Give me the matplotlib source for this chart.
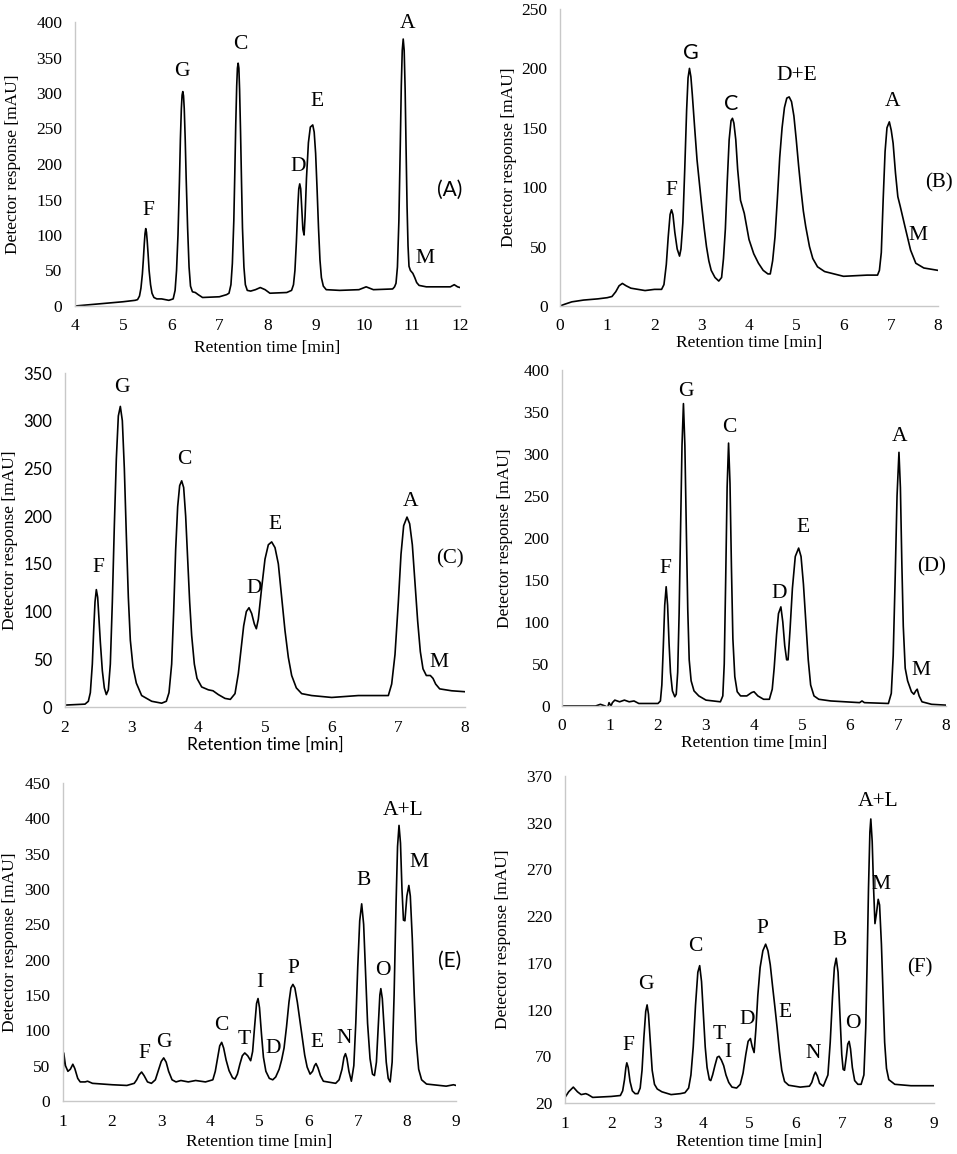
import matplotlib
matplotlib.use("Agg")
import matplotlib.pyplot as plt

plt.rcParams['font.family'] = ['Liberation Serif', 'DejaVu Serif']
SANS = ['Lato', 'DejaVu Sans']

# ---------------- data ----------------
a_time = [4.0, 4.5, 5.0, 5.25, 5.30, 5.34, 5.37, 5.40, 5.42, 5.44, 5.455, 5.47, 5.485, 5.50, 5.52, 5.54,
          5.57, 5.60, 5.64, 5.7, 5.8, 5.95, 6.04, 6.08, 6.11, 6.14, 6.17, 6.19, 6.21, 6.225, 6.24, 6.255,
          6.27, 6.29, 6.31, 6.34, 6.37, 6.40, 6.44, 6.50, 6.56, 6.65, 7.0, 7.15, 7.20, 7.24, 7.27, 7.30,
          7.32, 7.34, 7.36, 7.375, 7.39, 7.405, 7.42, 7.44, 7.46, 7.48, 7.51, 7.54, 7.58, 7.65, 7.75,
          7.85, 7.95, 8.05, 8.4, 8.50, 8.54, 8.57, 8.60, 8.63, 8.65, 8.67, 8.69, 8.71, 8.735, 8.76, 8.78,
          8.81, 8.85, 8.89, 8.94, 8.97, 9.00, 9.03, 9.06, 9.09, 9.12, 9.16, 9.22, 9.5, 9.9, 10.05, 10.2,
          10.6, 10.64, 10.67, 10.70, 10.73, 10.76, 10.78, 10.80, 10.82, 10.84, 10.86, 10.88, 10.90,
          10.92, 10.94, 10.97, 11.02, 11.06, 11.10, 11.15, 11.3, 11.8, 11.88, 11.95, 12.0]
a_signal = [0, 3, 6, 8, 9, 14, 25, 45, 65, 88, 102, 109, 104, 92, 72, 50,
            30, 18, 12, 10, 10, 8, 10, 22, 50, 100, 175, 235, 278, 297, 302, 296,
            278, 235, 180, 110, 55, 28, 20, 19, 16, 12, 13, 16, 18, 30, 60, 120,
            185, 255, 310, 335, 342, 335, 305, 245, 175, 110, 55, 30, 22, 21, 23,
            26, 23, 18, 19, 22, 30, 50, 90, 140, 165, 172, 165, 140, 108, 100, 125,
            180, 230, 252, 255, 245, 215, 165, 110, 65, 40, 28, 23, 22, 23, 27, 23,
            24, 27, 32, 55, 120, 230, 310, 360, 376, 360, 305, 220, 140,
            85, 56, 50, 46, 40, 33, 29, 27, 27, 30, 27, 26]

b_time = [0.0, 0.1, 0.25, 0.5, 0.8, 1.0, 1.1, 1.18, 1.25, 1.32, 1.4, 1.5, 1.8, 2.0, 2.15, 2.2, 2.25,
          2.29, 2.33, 2.36, 2.39, 2.43, 2.48, 2.53, 2.56, 2.60, 2.64, 2.68, 2.71, 2.74, 2.77, 2.80,
          2.85, 2.9, 3.0, 3.05, 3.1, 3.15, 3.2, 3.28, 3.36, 3.42, 3.46, 3.5, 3.54, 3.58, 3.62, 3.65,
          3.68, 3.72, 3.76, 3.82, 3.9, 4.0, 4.1, 4.2, 4.3, 4.4, 4.45, 4.5, 4.55, 4.6, 4.65, 4.7, 4.75,
          4.8, 4.85, 4.9, 4.95, 5.0, 5.05, 5.1, 5.15, 5.2, 5.28, 5.35, 5.45, 5.6, 6.0, 6.5, 6.72, 6.76,
          6.8, 6.84, 6.88, 6.92, 6.97, 7.01, 7.05, 7.1, 7.15, 7.2, 7.3, 7.42, 7.53, 7.7, 8.0]
b_signal = [0, 1.5, 3.5, 5, 6, 7, 8, 12, 17, 19, 17, 15, 13, 14, 14, 18, 35,
            58, 77, 81, 77, 62, 48, 42, 48, 70, 115, 165, 192, 200, 193, 178,
            150, 123, 84, 66, 50, 38, 30, 24, 21, 24, 40, 65, 105, 140, 156, 158,
            154, 140, 115, 89, 78, 56, 44, 36, 30, 27, 27, 38, 58, 90, 125, 150, 167,
            175, 176, 172, 160, 140, 118, 98, 80, 67, 50, 40, 33, 29, 25, 26, 26, 30,
            45, 90, 130, 150, 155, 148, 137, 112, 92, 84, 67, 47, 36, 32, 30]

c_time = [2.0, 2.3, 2.35, 2.38, 2.41, 2.43, 2.45, 2.47, 2.49, 2.51, 2.53, 2.56, 2.59, 2.62, 2.65, 2.68,
          2.71, 2.74, 2.77, 2.80, 2.83, 2.86, 2.89, 2.92, 2.95, 2.98, 3.02, 3.07, 3.15, 3.3, 3.45, 3.52,
          3.56, 3.6, 3.63, 3.66, 3.69, 3.72, 3.75, 3.78, 3.81, 3.84, 3.87, 3.9, 3.94, 3.98, 4.05, 4.15,
          4.22, 4.3, 4.4, 4.48, 4.55, 4.6, 4.64, 4.68, 4.72, 4.76, 4.8, 4.84, 4.87, 4.9, 4.95, 5.0,
          5.05, 5.1, 5.15, 5.2, 5.25, 5.3, 5.35, 5.4, 5.47, 5.55, 5.7, 6.0, 6.4, 6.85, 6.9, 6.95, 7.0,
          7.04, 7.08, 7.13, 7.17, 7.21, 7.25, 7.29, 7.33, 7.37, 7.42, 7.48, 7.52, 7.56, 7.62, 7.8, 8.0]
c_signal = [2, 3, 6, 15, 45, 80, 110, 123, 115, 92, 68, 38, 20, 13, 18, 45,
            110, 190, 260, 305, 315, 300, 250, 180, 115, 70, 42, 25, 12, 6, 4, 6,
            15, 45, 100, 165, 210, 232, 237, 230, 200, 155, 110, 75, 45, 30, 21, 18,
            17, 13, 9, 8, 14, 35, 60, 85, 100, 104, 98, 87, 82, 92, 125, 155,
            170, 173, 167, 150, 115, 80, 52, 33, 20, 14, 12, 10, 12, 12, 24, 55, 110,
            160, 190, 199, 192, 170, 130, 90, 58, 40, 33, 33, 30, 24, 19, 17, 16]

d_time = [0.0, 0.7, 0.8, 0.9, 0.95, 0.98, 1.02, 1.05, 1.1, 1.2, 1.3, 1.4, 1.5, 1.6, 2.0, 2.05, 2.08,
          2.11, 2.14, 2.17, 2.2, 2.23, 2.26, 2.3, 2.35, 2.38, 2.41, 2.44, 2.47, 2.5, 2.53, 2.56, 2.59,
          2.62, 2.65, 2.69, 2.75, 2.85, 3.0, 3.3, 3.35, 3.38, 3.41, 3.44, 3.47, 3.5, 3.53, 3.56, 3.6,
          3.65, 3.72, 3.85, 3.95, 4.0, 4.08, 4.2, 4.32, 4.38, 4.42, 4.47, 4.51, 4.56, 4.6, 4.64, 4.68,
          4.71, 4.75, 4.8, 4.86, 4.93, 4.98, 5.03, 5.08, 5.13, 5.18, 5.25, 5.35, 5.6, 6.2, 6.25, 6.3,
          6.8, 6.86, 6.9, 6.94, 6.98, 7.02, 7.05, 7.08, 7.11, 7.15, 7.2, 7.28, 7.33, 7.37, 7.4, 7.44,
          7.5, 7.7, 8.0]
d_signal = [0, 0, 2, 0, -2, 4, 0, 4, 7, 5, 7, 5, 6, 3, 3, 6, 25,
            70, 120, 142, 120, 75, 40, 18, 11, 14, 40, 110, 210, 310, 360, 310, 210,
            115, 55, 30, 18, 12, 7, 5, 12, 50, 150, 260, 313, 265, 165, 80, 35,
            17, 12, 12, 16, 17, 12, 8, 8, 20, 45, 85, 110, 118, 100, 72, 55,
            55, 90, 140, 178, 188, 178, 145, 100, 55, 25, 12, 8, 6, 4, 6, 4,
            3, 15, 60, 150, 250, 302, 260, 170, 95, 45, 30, 17, 14, 18, 20, 12,
            5, 2, 1]

e_time = [1.0, 1.015, 1.05, 1.1, 1.15, 1.2, 1.24, 1.3, 1.35, 1.45, 1.5, 1.6, 2.0, 2.3, 2.45, 2.5,
          2.55, 2.6, 2.65, 2.72, 2.8, 2.88, 2.95, 3.0, 3.05, 3.1, 3.15, 3.22, 3.3, 3.4, 3.55, 3.7,
          3.9, 4.05, 4.1, 4.15, 4.19, 4.23, 4.27, 4.32, 4.38, 4.45, 4.5, 4.55, 4.6, 4.65, 4.7, 4.76,
          4.82, 4.86, 4.9, 4.94, 4.97, 5.0, 5.04, 5.08, 5.13, 5.2, 5.27, 5.33, 5.4, 5.45, 5.5, 5.55,
          5.6, 5.64, 5.68, 5.72, 5.77, 5.82, 5.87, 5.92, 5.97, 6.03, 6.08, 6.12, 6.15, 6.19, 6.24,
          6.3, 6.55, 6.62, 6.68, 6.72, 6.75, 6.78, 6.82, 6.87, 6.92, 6.96, 7.0, 7.04, 7.08, 7.12, 7.16,
          7.2, 7.25, 7.3, 7.34, 7.38, 7.42, 7.45, 7.47, 7.5, 7.54, 7.58, 7.62, 7.66, 7.7, 7.74, 7.78,
          7.81, 7.84, 7.87, 7.9, 7.93, 7.96, 8.0, 8.04, 8.07, 8.11, 8.15, 8.19, 8.24, 8.3, 8.4, 8.8,
          8.95, 9.0]
e_signal = [30, 68, 50, 42, 45, 52, 46, 32, 27, 27, 28, 25, 23, 22, 25, 30,
            37, 41, 36, 27, 25, 30, 45, 56, 61, 55, 42, 30, 27, 29, 27, 29,
            27, 30, 42, 62, 78, 83, 75, 58, 43, 33, 31, 38, 52, 64, 68, 64,
            57, 70, 105, 138, 145, 132, 95, 62, 42, 32, 30, 34, 45, 58, 75, 105,
            140, 160, 165, 160, 140, 115, 90, 65, 48, 38, 42, 50, 53, 47, 36,
            28, 25, 30, 45, 62, 67, 60, 42, 28, 50, 110, 190, 255, 279, 250, 180,
            110, 60, 38, 36, 55, 110, 150, 159, 145, 100, 55, 32, 27, 55, 150, 280,
            360, 390, 365, 300, 256, 255, 290, 305, 290, 230, 150, 85, 45, 30, 24, 21,
            23, 22]

f_time = [1.0, 1.08, 1.18, 1.27, 1.35, 1.45, 1.5, 1.6, 2.0, 2.2, 2.25, 2.29, 2.32, 2.34, 2.37, 2.41,
          2.46, 2.52, 2.58, 2.63, 2.67, 2.71, 2.75, 2.78, 2.81, 2.85, 2.89, 2.94, 3.0, 3.1, 3.3, 3.5,
          3.6, 3.68, 3.73, 3.78, 3.83, 3.88, 3.92, 3.96, 4.0, 4.04, 4.08, 4.13, 4.16, 4.2, 4.25, 4.3,
          4.34, 4.39, 4.44, 4.49, 4.55, 4.62, 4.72, 4.8, 4.86, 4.92, 4.97, 5.02, 5.06, 5.1, 5.14, 5.18,
          5.23, 5.29, 5.35, 5.4, 5.45, 5.5, 5.55, 5.6, 5.65, 5.7, 5.76, 5.85, 6.1, 6.3, 6.35, 6.4,
          6.43, 6.47, 6.52, 6.6, 6.7, 6.75, 6.8, 6.84, 6.88, 6.92, 6.96, 7.0, 7.03, 7.06, 7.1, 7.13,
          7.16, 7.19, 7.23, 7.28, 7.35, 7.42, 7.48, 7.52, 7.55, 7.58, 7.61, 7.63, 7.66, 7.69, 7.72,
          7.75, 7.79, 7.82, 7.86, 7.9, 7.93, 7.97, 8.02, 8.15, 8.5, 9.0]
f_signal = [26, 32, 37, 32, 29, 30, 29, 26, 27, 28, 33, 45, 58, 63, 58, 43,
            33, 30, 30, 36, 55, 90, 118, 125, 115, 85, 55, 40, 35, 32, 29, 30,
            31, 36, 50, 80, 125, 160, 167, 150, 115, 80, 58, 45, 44, 50, 60, 69,
            70, 66, 60, 50, 42, 37, 36, 40, 52, 72, 86, 89, 80, 74, 100, 135,
            165, 183, 190, 183, 168, 145, 123, 100, 75, 55, 43, 39, 37, 38, 42, 50,
            53, 49, 41, 38, 50, 85, 134, 165, 175, 160, 115, 72, 56, 55, 70, 83,
            86, 78, 58, 44, 40, 40, 50, 100, 170, 250, 310, 324, 300, 250, 212,
            222, 238, 232, 190, 130, 85, 57, 45, 40, 38.5, 38.5]

# peak labels and where they sit (data coordinates)
a_labels = ['F', 'G', 'C', 'D', 'E', 'A', 'M']
a_label_x = [5.52, 6.23, 7.44, 8.63, 9.03, 10.9, 11.27]
a_label_y = [135, 330, 368, 196, 288, 398, 67]

b_labels = ['F', 'G', 'C', 'D+E', 'A', 'M']
b_label_x = [2.36, 2.77, 3.63, 5.01, 7.03, 7.58]
b_label_y = [97, 213, 170, 194, 172, 59]

c_labels = ['F', 'G', 'C', 'D', 'E', 'A', 'M']
c_label_x = [2.50, 2.85, 3.79, 4.84, 5.15, 7.19, 7.61]
c_label_y = [146, 335, 259, 124, 191, 215, 47]

d_labels = ['F', 'G', 'C', 'D', 'E', 'A', 'M']
d_label_x = [2.15, 2.58, 3.48, 4.52, 5.03, 7.03, 7.48]
d_label_y = [164, 375, 332, 134, 213, 321, 42]

e_labels = ['F', 'G', 'C', 'T', 'I', 'D', 'P', 'E', 'N', 'B', 'O', 'A+L', 'M']
e_label_x = [2.65, 3.06, 4.22, 4.69, 5.0, 5.27, 5.69, 6.17, 6.73, 7.12, 7.52, 7.93, 8.25]
e_label_y = [67, 83, 107, 87, 168, 74, 187, 83, 88, 312, 185, 411, 337]

f_labels = ['F', 'G', 'C', 'T', 'I', 'D', 'P', 'E', 'N', 'B', 'O', 'A+L', 'M']
f_label_x = [2.37, 2.76, 3.82, 4.34, 4.54, 4.95, 5.28, 5.77, 6.37, 6.96, 7.24, 7.79, 7.86]
f_label_y = [82, 147, 187, 93, 74, 109, 207, 117, 73, 194, 105, 343, 254]

x_label = 'Retention time [min]'
y_label = 'Detector response [mAU]'

# ---------------- layout ----------------
W, H = 957, 1154
fig = plt.figure(figsize=(W / 100, H / 100), dpi=100)

panels = [
    dict(name='(A)', t=a_time, s=a_signal, lab=a_labels, lx=a_label_x, ly=a_label_y,
         box=(75, 22, 460, 306), xlim=(4, 12), xt=range(4, 13), ylim=(0, 400), yt=range(0, 401, 50),
         tag=(11.79, 163), tagsans=True, ylx=13, xly=348, ytsans=False, xlsans=False, sanslab=[]),
    dict(name='(B)', t=b_time, s=b_signal, lab=b_labels, lx=b_label_x, ly=b_label_y,
         box=(560, 9, 938, 306), xlim=(0, 8), xt=range(0, 9), ylim=(0, 250), yt=range(0, 251, 50),
         tag=(8.02, 104), tagsans=False, ylx=509, xly=343, ytsans=False, xlsans=False, sanslab=['G', 'C']),
    dict(name='(C)', t=c_time, s=c_signal, lab=c_labels, lx=c_label_x, ly=c_label_y,
         box=(65, 373, 465, 707), xlim=(2, 8), xt=range(2, 9), ylim=(0, 350), yt=range(0, 351, 50),
         tag=(7.78, 155), tagsans=False, ylx=10, xly=745, ytsans=True, xlsans=True, sanslab=[]),
    dict(name='(D)', t=d_time, s=d_signal, lab=d_labels, lx=d_label_x, ly=d_label_y,
         box=(562, 370, 946, 706), xlim=(0, 8), xt=range(0, 9), ylim=(0, 400), yt=range(0, 401, 50),
         tag=(7.70, 166), tagsans=False, ylx=505, xly=743, ytsans=False, xlsans=False, sanslab=[]),
    dict(name='(E)', t=e_time, s=e_signal, lab=e_labels, lx=e_label_x, ly=e_label_y,
         box=(63, 783, 456, 1101), xlim=(1, 9), xt=range(1, 10), ylim=(0, 450), yt=range(0, 451, 50),
         tag=(8.88, 199), tagsans=True, ylx=10, xly=1142, ytsans=False, xlsans=False, sanslab=[]),
    dict(name='(F)', t=f_time, s=f_signal, lab=f_labels, lx=f_label_x, ly=f_label_y,
         box=(565, 776, 934, 1103), xlim=(1, 9), xt=range(1, 10), ylim=(20, 370), yt=range(20, 371, 50),
         tag=(8.69, 165), tagsans=False, ylx=503, xly=1142, ytsans=False, xlsans=False, sanslab=[]),
]

spine_col = '#c8c8c8'
for p in panels:
    l, t, r, b = p['box']
    ax = fig.add_axes([l / W, 1 - b / H, (r - l) / W, (b - t) / H])
    ax.plot(p['t'], p['s'], color='black', lw=1.2, solid_joinstyle='round')
    ax.set_xlim(*p['xlim'])
    ax.set_ylim(*p['ylim'])
    ax.set_xticks(list(p['xt']))
    ax.set_yticks(list(p['yt']))
    for side in ('top', 'right'):
        ax.spines[side].set_visible(False)
    for side in ('left', 'bottom'):
        ax.spines[side].set_color(spine_col)
        ax.spines[side].set_linewidth(1.0)
    ax.tick_params(length=0, labelsize=12.5, pad=9)
    if p['ytsans']:
        for tl in ax.get_yticklabels():
            tl.set_fontfamily(SANS)
            tl.set_fontsize(12)
    ax.set_xlabel(x_label, fontsize=12.5, family=SANS if p['xlsans'] else None)
    ax.set_ylabel(y_label, fontsize=12.5)
    ax.xaxis.set_label_coords(0.5, (b - p['xly']) / (b - t))
    ax.yaxis.set_label_coords((p['ylx'] - l) / (r - l), 0.5)
    ax.xaxis.label.set_verticalalignment('center')
    ax.yaxis.label.set_verticalalignment('center')
    for name, x, y in zip(p['lab'], p['lx'], p['ly']):
        fam = SANS if name in p['sanslab'] else None
        ax.text(x, y, name, ha='center', va='center', fontsize=15.5, family=fam, clip_on=False)
    ax.text(p['tag'][0], p['tag'][1], p['name'], ha='center', va='center', fontsize=15,
            family=SANS if p['tagsans'] else None, clip_on=False)

fig.savefig('out.png', dpi=100)
